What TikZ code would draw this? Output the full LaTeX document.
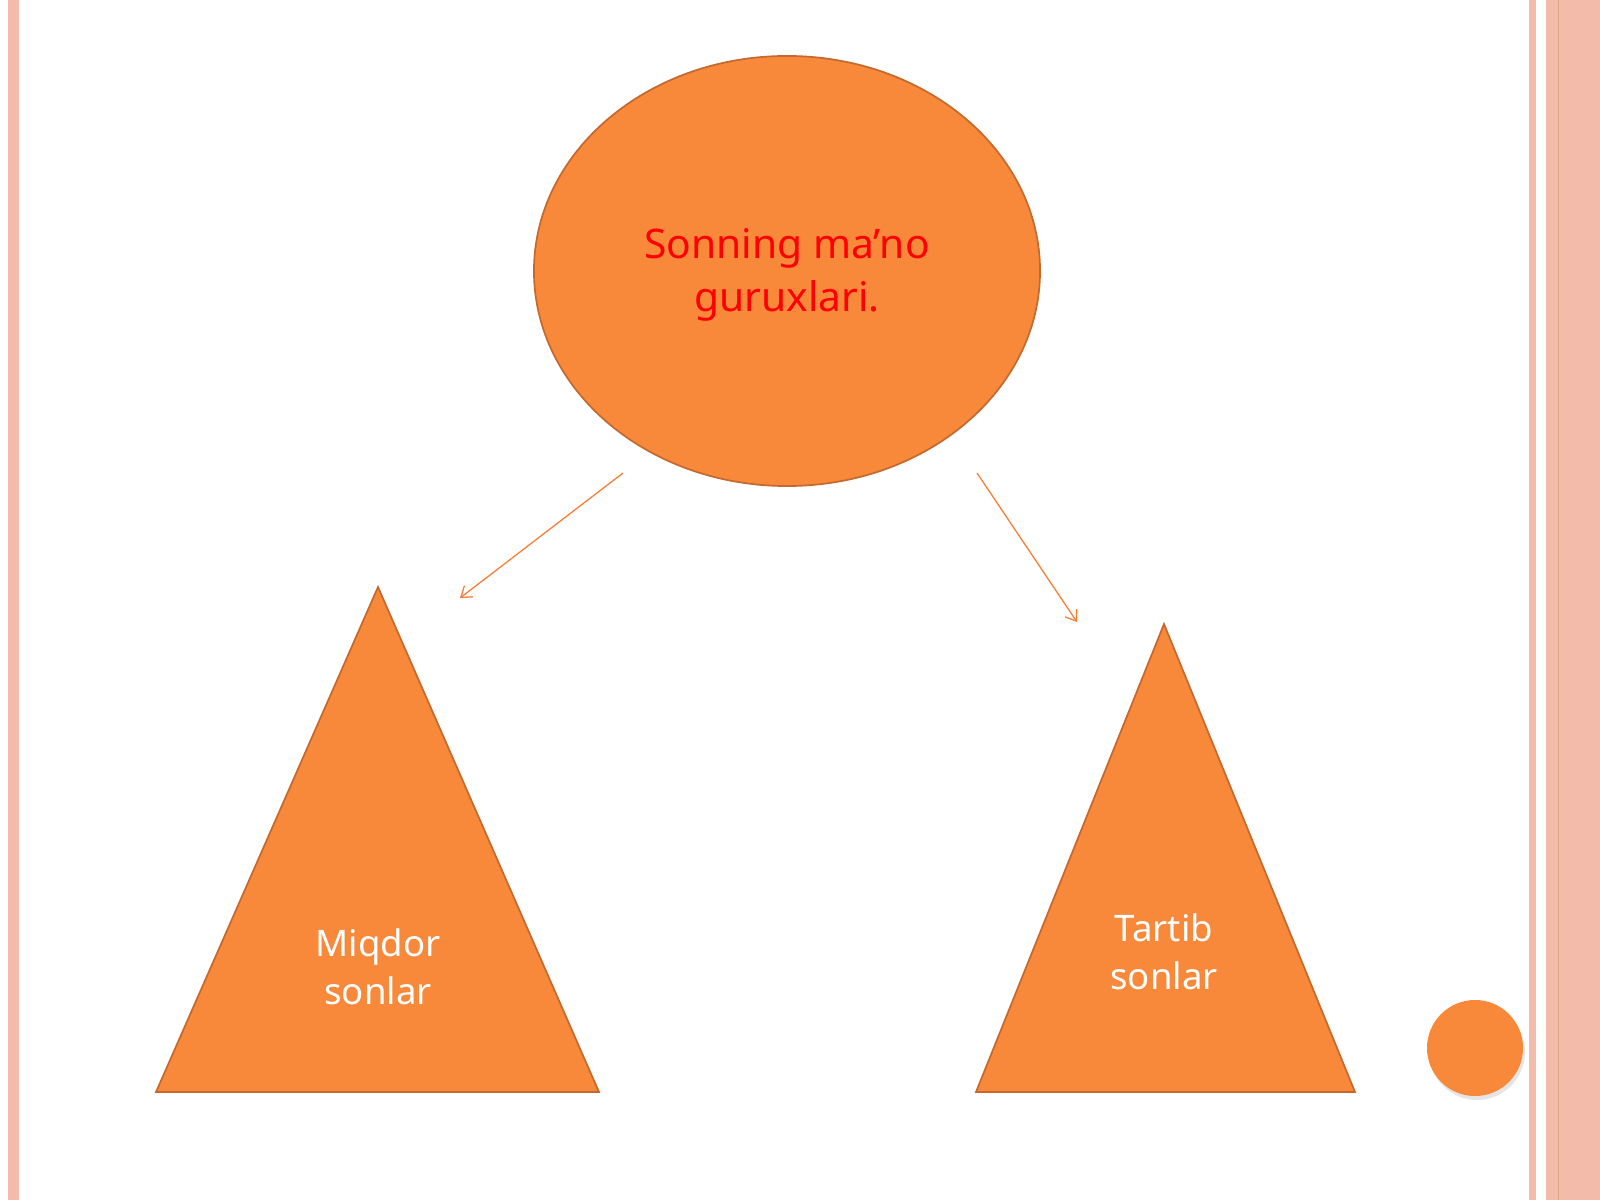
\documentclass[tikz,border=0pt]{standalone}
\usepackage{fontspec}
\setmainfont{Noto Sans}
\usetikzlibrary{shapes.geometric,arrows.meta}
\definecolor{orangefill}{HTML}{F8893A}
\definecolor{orangeline}{HTML}{C4682E}
\definecolor{stripe}{HTML}{F3BCAA}
\tikzset{
blob/.style={fill=orangefill, draw=orangeline, line width=1.2pt},
link/.style={draw=orangefill!90!red, line width=0.9pt, -{Straight Barb[length=7pt,width=10pt]}}}

\begin{document}
\begin{tikzpicture}[x=0.025cm,y=-0.025cm]
                \useasboundingbox (0,0) rectangle (1600,1200);
                \fill[stripe] (8,0) rectangle (19,1200);
                \fill[stripe] (1529,0) rectangle (1536,1200);
                \fill[stripe] (1546,0) rectangle (1600,1200);
                \draw[orangeline!60, line width=0.6pt] (1558,0) -- (1558,1200);
            
                \node[blob, ellipse, minimum width=12.65cm, minimum height=10.75cm] (G) at (787,271) {};
                \node[text=red, font=\fontsize{29}{38}\selectfont, align=center] (g) at (787,275) {Sonning ma’no\\guruxlari.};
                \coordinate (M) at (378,587);
                \coordinate (T) at (1164,624);
                \draw[blob] (M) -- (599,1092) -- (156,1092) -- cycle;
                \draw[blob] (T) -- (1355,1092) -- (976,1092) -- cycle;
                \node[text=white, font=\fontsize{26}{34}\selectfont, align=center] (m) at (378,967) {Miqdor\\sonlar};
                \node[text=white, font=\fontsize{26}{34}\selectfont, align=center] (t) at (1164,952) {Tartib\\sonlar};
                \fill[black!25, opacity=0.4] (1477,1052) circle (48);
                \node[circle, fill=orangefill, minimum size=2.4cm] (dot) at (1475,1048) {};
            
                \coordinate (a1) at (623,473);
                \coordinate (a2) at (460,598);
                \coordinate (b1) at (977,473);
                \coordinate (b2) at (1077,622);
                \draw[link] (a1) -- (a2);
                \draw[link] (b1) -- (b2);
        
            \end{tikzpicture}
\end{document}
